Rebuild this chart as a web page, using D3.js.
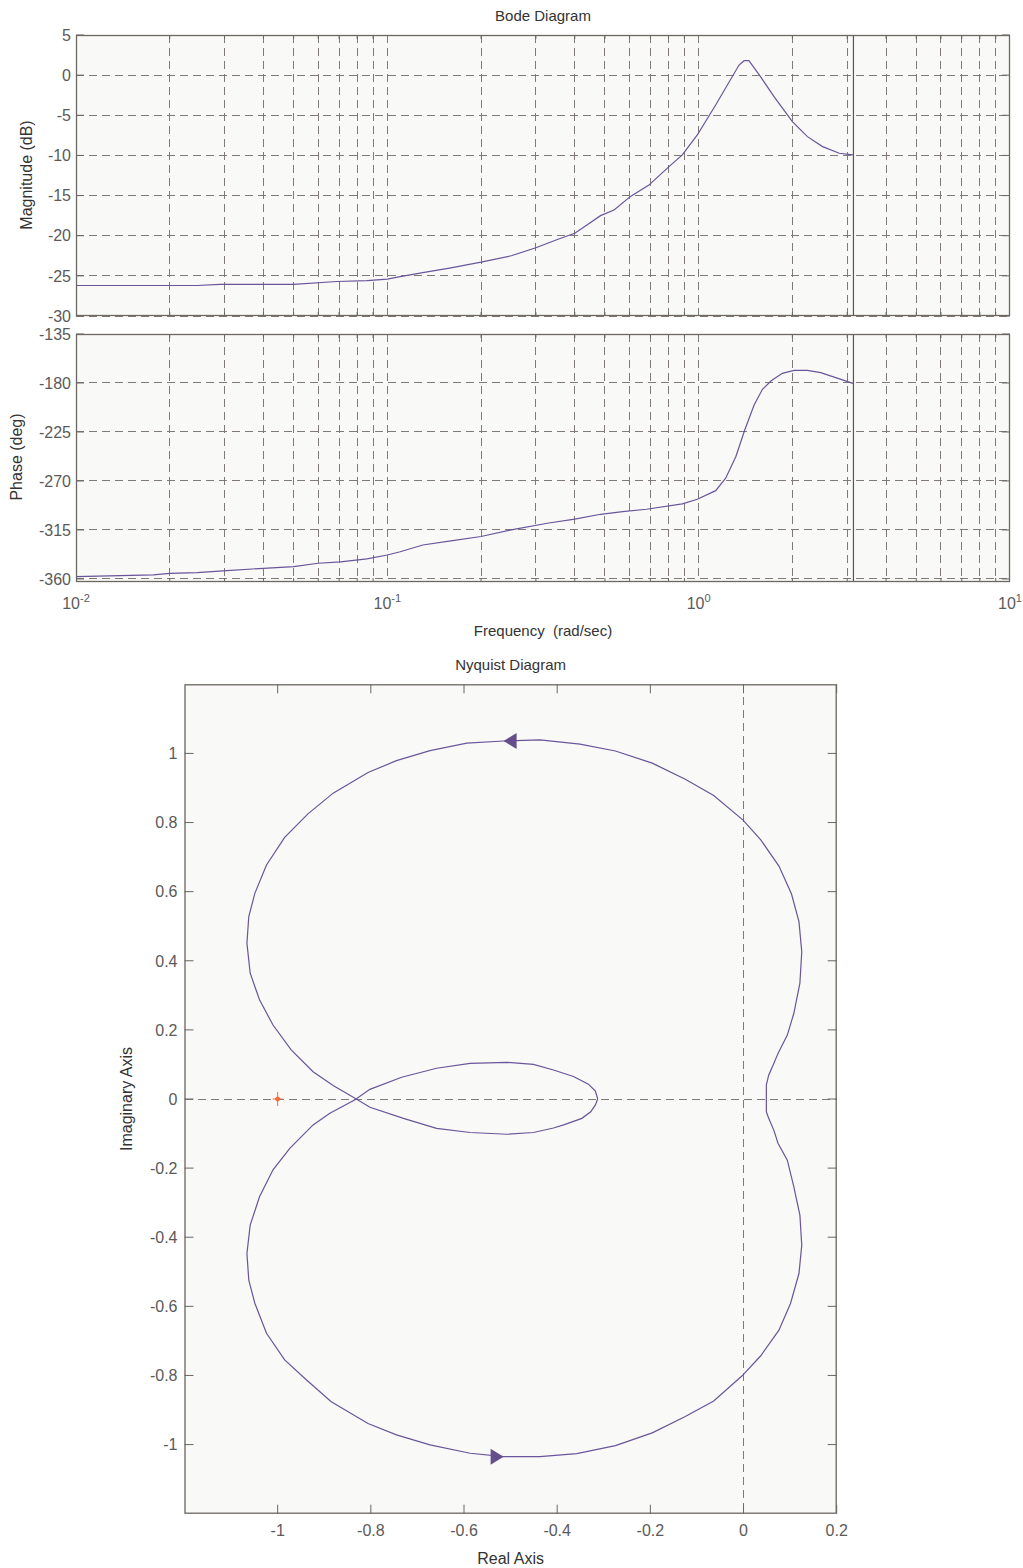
<!DOCTYPE html>
<html>
<head>
<meta charset="utf-8">
<script src="https://cdn.jsdelivr.net/npm/d3@7"></script>
<style>
body{margin:0;background:#fff;}
text{font-family:"Liberation Sans",Arial,sans-serif;}
</style>
</head>
<body>
<div id="chart"></div>
<script>
const WIDTH = 1023;
const HEIGHT = 1568;

// bode magnitude
const magFreq = [0.01,0.0245,0.029,0.05,0.0689,0.086,0.1,0.11,0.13,0.16,0.2,0.25,0.3,0.35,0.4,0.44,0.484,0.535,0.604,0.692,0.803,0.886,0.99,1.134,1.348,1.40,1.45,1.58,1.746,2.0,2.235,2.5,2.83,3.13];
const magDb = [-26.2,-26.2,-26.05,-26.05,-25.7,-25.6,-25.4,-25.1,-24.6,-24.0,-23.3,-22.5,-21.5,-20.5,-19.7,-18.6,-17.5,-16.8,-15.1,-13.7,-11.4,-9.94,-7.45,-3.72,1.26,1.8,1.8,-0.19,-2.68,-5.8,-7.66,-8.9,-9.73,-9.94];

// bode phase
const phaseFreq = [0.01,0.0177,0.02,0.0245,0.0305,0.04,0.05,0.06,0.0707,0.086,0.1,0.11,0.13,0.16,0.2,0.25,0.33,0.4,0.484,0.57,0.68,0.886,0.99,1.134,1.221,1.316,1.406,1.507,1.603,1.71,1.857,2.025,2.235,2.466,3.13];
const phaseDeg = [-357.9,-356.3,-354.8,-354.2,-352.4,-350.2,-348.7,-345.6,-344.4,-341.6,-338.0,-335.0,-328.8,-325.0,-321.0,-315.0,-308.6,-305.0,-300.6,-298.2,-296.0,-291.1,-286.8,-278.9,-267.5,-247.7,-223.2,-200.2,-185.8,-177.9,-171.1,-168.4,-168.4,-170.5,-180.3];

const nyquistFreq = 3.1416;

const magTicks = [5,0,-5,-10,-15,-20,-25,-30];
const phaseTicks = [-135,-180,-225,-270,-315,-360];
const freqTicks = [0.01,0.1,1,10];
const freqExp = ["-2","-1","0","1"];

// nyquist, positive frequencies (0 -> pi)
const nyqPos = [[0.049,0],[0.049,0.041],[0.054,0.069],[0.065,0.103],[0.074,0.132],[0.094,0.185],[0.108,0.248],[0.121,0.335],[0.125,0.426],[0.119,0.513],[0.103,0.593],[0.076,0.674],[0.037,0.750],[-0.001,0.807],[-0.064,0.878],[-0.125,0.925],[-0.196,0.972],[-0.275,1.007],[-0.351,1.027],[-0.437,1.039],[-0.515,1.036],[-0.594,1.030],[-0.673,1.008],[-0.745,0.979],[-0.806,0.945],[-0.881,0.885],[-0.935,0.825],[-0.985,0.757],[-1.024,0.677],[-1.049,0.595],[-1.062,0.528],[-1.066,0.451],[-1.059,0.364],[-1.039,0.287],[-1.010,0.214],[-0.971,0.142],[-0.924,0.079],[-0.881,0.039],[-0.834,0.002],[-0.802,-0.024],[-0.730,-0.056],[-0.659,-0.085],[-0.587,-0.097],[-0.508,-0.102],[-0.451,-0.097],[-0.408,-0.084],[-0.386,-0.075],[-0.347,-0.056],[-0.328,-0.037],[-0.318,-0.017],[-0.313,0]];
// negative frequencies (-pi -> 0)
const nyqNeg = [[-0.313,0],[-0.318,0.023],[-0.333,0.043],[-0.365,0.065],[-0.408,0.084],[-0.451,0.100],[-0.508,0.106],[-0.587,0.103],[-0.659,0.089],[-0.734,0.063],[-0.802,0.028],[-0.834,-0.002],[-0.888,-0.041],[-0.924,-0.075],[-0.974,-0.143],[-1.010,-0.205],[-1.039,-0.283],[-1.059,-0.365],[-1.066,-0.447],[-1.062,-0.524],[-1.049,-0.591],[-1.024,-0.678],[-0.985,-0.755],[-0.938,-0.813],[-0.885,-0.876],[-0.806,-0.939],[-0.745,-0.972],[-0.673,-1.001],[-0.587,-1.025],[-0.515,-1.035],[-0.437,-1.035],[-0.358,-1.026],[-0.275,-1.003],[-0.196,-0.966],[-0.125,-0.919],[-0.064,-0.874],[-0.003,-0.801],[0.037,-0.743],[0.076,-0.669],[0.101,-0.591],[0.119,-0.505],[0.125,-0.423],[0.121,-0.336],[0.108,-0.254],[0.094,-0.177],[0.074,-0.128],[0.065,-0.090],[0.054,-0.056],[0.049,-0.037],[0.049,0]];
// arrow tips: re, im, direction
const nyqArrows = [[-0.515,1.036,-1],[-0.515,-1.035,1]];
const critPoint = [-1,0];

const reTicks = [-1,-0.8,-0.6,-0.4,-0.2,0,0.2];
const imTicks = [-1,-0.8,-0.6,-0.4,-0.2,0,0.2,0.4,0.6,0.8,1];

const LINE = "#69559a";
const FRAME = "#6b6762";
const GRID = "#7f7a75";
const TICKTXT = "#5a5a5a";
const LABEL = "#333";
const BG = "#f9f9f7";

function frame(svg,x0,x1,y0,y1){
    svg.append("rect")
        .attr("x",x0).attr("y",y0)
        .attr("width",x1-x0).attr("height",y1-y0)
        .style("fill",BG);
}

function border(svg,x0,x1,y0,y1){
    svg.append("rect")
        .attr("x",x0+0.5).attr("y",y0+0.5)
        .attr("width",x1-x0-1).attr("height",y1-y0-1)
        .style("fill","none")
        .style("stroke",FRAME)
        .style("stroke-width",1.3);
}

function bodePanel(svg,x,y,ticks,freqs,vals,showX){
    let [x0,x1] = x.range();
    let [y1,y0] = y.range();
    frame(svg,x0,x1,y0,y1);

    let minor = [];
    [-2,-1,0].forEach(n => {
        for (let k=2;k<=9;k++) minor.push(k*Math.pow(10,n));
    });
    let grid = svg.append("g")
        .style("stroke",GRID)
        .style("stroke-dasharray","8,5")
        .style("shape-rendering","crispEdges");
    grid.selectAll(".vg")
        .data(minor.concat(freqTicks.slice(1,3)))
        .enter()
        .append("line")
        .attr("x1",d=>x(d)).attr("x2",d=>x(d))
        .attr("y1",y0).attr("y2",y1);
    grid.selectAll(".hg")
        .data(ticks)
        .enter()
        .append("line")
        .attr("x1",x0).attr("x2",x1)
        .attr("y1",d=>y(d)).attr("y2",d=>y(d));

    // nyquist frequency marker
    svg.append("line")
        .attr("x1",x(nyquistFreq)).attr("x2",x(nyquistFreq))
        .attr("y1",y0).attr("y2",y1)
        .style("stroke","#555")
        .style("stroke-width",1.2);

    let tickG = svg.append("g").style("stroke",FRAME);
    tickG.selectAll(".lt")
        .data(ticks)
        .enter()
        .append("line")
        .attr("x1",x0).attr("x2",x0+8)
        .attr("y1",d=>y(d)).attr("y2",d=>y(d));
    tickG.selectAll(".rt")
        .data(ticks)
        .enter()
        .append("line")
        .attr("x1",x1-8).attr("x2",x1)
        .attr("y1",d=>y(d)).attr("y2",d=>y(d));
    tickG.selectAll(".bt")
        .data(minor)
        .enter()
        .append("line")
        .attr("x1",d=>x(d)).attr("x2",d=>x(d))
        .attr("y1",y1).attr("y2",y1-4);
    tickG.selectAll(".tt")
        .data(minor)
        .enter()
        .append("line")
        .attr("x1",d=>x(d)).attr("x2",d=>x(d))
        .attr("y1",y0).attr("y2",y0+4);

    svg.append("g")
        .selectAll("text")
        .data(ticks)
        .enter()
        .append("text")
        .attr("x",x0-5)
        .attr("y",d=>y(d))
        .attr("dy","0.36em")
        .attr("text-anchor","end")
        .style("font-size","16px")
        .style("fill",TICKTXT)
        .text(d=>d);

    let line = d3.line()
        .x(d=>x(d[0]))
        .y(d=>y(d[1]));
    svg.append("path")
        .datum(freqs.map((f,i)=>[f,vals[i]]))
        .attr("d",line)
        .style("fill","none")
        .style("stroke",LINE)
        .style("stroke-width",1.2);

    border(svg,x0,x1,y0,y1);

    if (showX){
        let lbl = svg.append("g")
            .selectAll("text")
            .data(freqTicks)
            .enter()
            .append("text")
            .attr("x",d=>x(d))
            .attr("y",y1+27)
            .attr("text-anchor","middle")
            .style("font-size","16px")
            .style("fill",TICKTXT);
        lbl.append("tspan").text("10");
        lbl.append("tspan")
            .attr("dy","-7")
            .style("font-size","11px")
            .text((d,i)=>freqExp[i]);
    }
}

function main(){
    let svg = d3.select("#chart")
        .append("svg")
        .attr("width",WIDTH)
        .attr("height",HEIGHT);

    // ---- Bode ----
    let xf = d3.scaleLog().domain([0.01,10]).range([76,1010]);
    let yMag = d3.scaleLinear().domain([-30,5]).range([316,35]);
    let yPh = d3.scaleLinear().domain([-362.8,-135]).range([582,334]);

    svg.append("text")
        .attr("x",543).attr("y",21)
        .attr("text-anchor","middle")
        .style("font-size","15px")
        .style("fill",LABEL)
        .text("Bode Diagram");

    bodePanel(svg,xf,yMag,magTicks,magFreq,magDb,false);
    bodePanel(svg,xf,yPh,phaseTicks,phaseFreq,phaseDeg,true);

    svg.append("text")
        .attr("transform","translate(32,175) rotate(-90)")
        .attr("text-anchor","middle")
        .style("font-size","16px")
        .style("fill",LABEL)
        .text("Magnitude (dB)");
    svg.append("text")
        .attr("transform","translate(22,457) rotate(-90)")
        .attr("text-anchor","middle")
        .style("font-size","16px")
        .style("fill",LABEL)
        .text("Phase (deg)");
    svg.append("text")
        .attr("x",543).attr("y",636)
        .attr("text-anchor","middle")
        .style("font-size","15px")
        .style("fill",LABEL)
        .style("white-space","pre")
        .text("Frequency  (rad/sec)");

    // ---- Nyquist ----
    let xr = d3.scaleLinear().domain([-1.2,0.2]).range([184.5,836.7]);
    let yi = d3.scaleLinear().domain([-1.2,1.2]).range([1513.7,684.3]);
    let [nx0,nx1] = xr.range();
    let [ny1,ny0] = yi.range();
    frame(svg,nx0,nx1,ny0,ny1);

    let zero = svg.append("g")
        .style("stroke",GRID)
        .style("stroke-dasharray","8,5")
        .style("shape-rendering","crispEdges");
    zero.append("line")
        .attr("x1",xr(0)).attr("x2",xr(0))
        .attr("y1",ny0).attr("y2",ny1);
    zero.append("line")
        .attr("x1",nx0).attr("x2",nx1)
        .attr("y1",yi(0)).attr("y2",yi(0));

    let nt = svg.append("g").style("stroke",FRAME);
    nt.selectAll(".bt")
        .data(reTicks)
        .enter()
        .append("line")
        .attr("x1",d=>xr(d)).attr("x2",d=>xr(d))
        .attr("y1",ny1).attr("y2",ny1-9);
    nt.selectAll(".tt")
        .data(reTicks)
        .enter()
        .append("line")
        .attr("x1",d=>xr(d)).attr("x2",d=>xr(d))
        .attr("y1",ny0).attr("y2",ny0+9);
    nt.selectAll(".lt")
        .data(imTicks)
        .enter()
        .append("line")
        .attr("x1",nx0).attr("x2",nx0+9)
        .attr("y1",d=>yi(d)).attr("y2",d=>yi(d));
    nt.selectAll(".rt")
        .data(imTicks)
        .enter()
        .append("line")
        .attr("x1",nx1-9).attr("x2",nx1)
        .attr("y1",d=>yi(d)).attr("y2",d=>yi(d));

    let nline = d3.line()
        .x(d=>xr(d[0]))
        .y(d=>yi(d[1]));
    [nyqPos,nyqNeg].forEach(branch => {
        svg.append("path")
            .datum(branch)
            .attr("d",nline)
            .style("fill","none")
            .style("stroke",LINE)
            .style("stroke-width",1.2);
    });

    svg.selectAll(".arrow")
        .data(nyqArrows)
        .enter()
        .append("path")
        .attr("class","arrow")
        .attr("transform",d=>`translate(${xr(d[0])},${yi(d[1])}) scale(${-d[2]},1)`)
        .attr("d","M0,0 L13,-8 L13,8 Z")
        .style("fill","#644f8c");

    // critical point -1
    let cp = svg.append("g")
        .attr("transform",`translate(${xr(critPoint[0])},${yi(critPoint[1])})`)
        .style("stroke","#f26a3c");
    cp.append("line").attr("x1",-5).attr("x2",5).attr("y1",0).attr("y2",0);
    cp.append("line").attr("x1",0).attr("x2",0).attr("y1",-7).attr("y2",7);
    cp.append("circle").attr("r",2).style("fill","#f26a3c");

    border(svg,nx0,nx1,ny0,ny1);

    svg.append("g")
        .selectAll("text")
        .data(reTicks)
        .enter()
        .append("text")
        .attr("x",d=>xr(d))
        .attr("y",ny1+22)
        .attr("text-anchor","middle")
        .style("font-size","16px")
        .style("fill",TICKTXT)
        .text(d=>d);
    svg.append("g")
        .selectAll("text")
        .data(imTicks)
        .enter()
        .append("text")
        .attr("x",nx0-7)
        .attr("y",d=>yi(d))
        .attr("dy","0.36em")
        .attr("text-anchor","end")
        .style("font-size","16px")
        .style("fill",TICKTXT)
        .text(d=>d);

    svg.append("text")
        .attr("x",(nx0+nx1)/2).attr("y",670)
        .attr("text-anchor","middle")
        .style("font-size","15px")
        .style("fill",LABEL)
        .text("Nyquist Diagram");
    svg.append("text")
        .attr("x",(nx0+nx1)/2).attr("y",1564)
        .attr("text-anchor","middle")
        .style("font-size","16px")
        .style("fill",LABEL)
        .text("Real Axis");
    svg.append("text")
        .attr("transform","translate(132,1099) rotate(-90)")
        .attr("text-anchor","middle")
        .style("font-size","16px")
        .style("fill",LABEL)
        .text("Imaginary Axis");
}

window.addEventListener("load",main);
</script>
</body>
</html>
